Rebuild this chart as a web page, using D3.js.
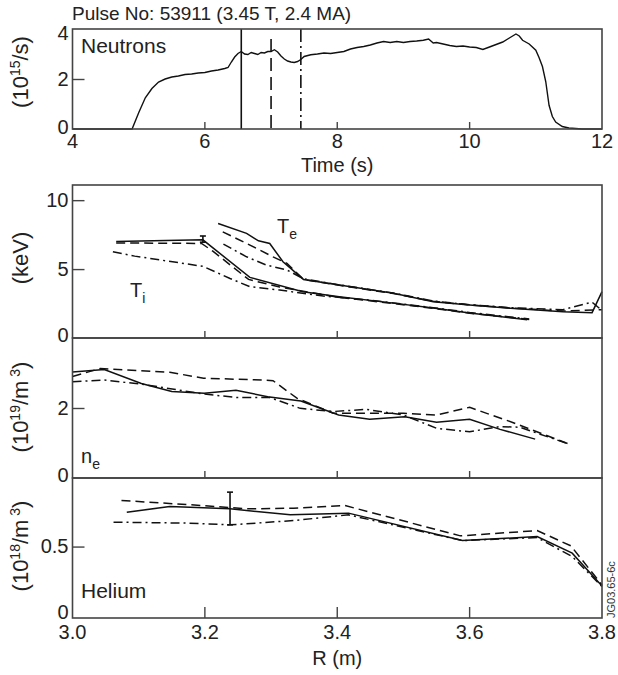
<!DOCTYPE html>
<html>
<head>
<meta charset="utf-8">
<script src="https://cdn.jsdelivr.net/npm/d3@7"></script>
<style>
body { margin: 0; background: #fff; }
svg { font-family: "Liberation Sans", Arial, sans-serif; }
</style>
</head>
<body>
<svg id="chart" width="618" height="675"></svg>
<script>
// ---- data ----
const pulseTitle = "Pulse No: 53911 (3.45 T, 2.4 MA)";

// neutron rate (10^15/s) vs time (s)
const neutronTime = [4.0, 4.9, 5.0, 5.1, 5.2, 5.3, 5.4, 5.5, 5.6, 5.7, 5.8, 5.9, 6.0, 6.1, 6.2, 6.3, 6.35,
  6.4, 6.45, 6.5, 6.55, 6.6, 6.65, 6.7, 6.75, 6.8, 6.85, 6.9, 6.95, 7.0, 7.05, 7.1, 7.15, 7.2, 7.25,
  7.3, 7.35, 7.4, 7.45, 7.5, 7.6, 7.7, 7.8, 7.9, 8.0, 8.1, 8.2, 8.3, 8.4, 8.5, 8.6, 8.7, 8.8, 8.9,
  9.0, 9.1, 9.2, 9.3, 9.38, 9.45, 9.5, 9.6, 9.7, 9.8, 9.9, 10.0, 10.1, 10.2, 10.3, 10.4, 10.5, 10.6,
  10.7, 10.75, 10.8, 10.9, 11.0, 11.05, 11.1, 11.15, 11.2, 11.25, 11.3, 11.4, 11.5, 11.7, 12.0];
const neutronRate = [0, 0, 0.65, 1.25, 1.62, 1.88, 2.0, 2.08, 2.12, 2.18, 2.2, 2.24, 2.26, 2.32, 2.36, 2.42, 2.46,
  2.68, 2.88, 3.02, 3.1, 3.0, 2.98, 3.06, 3.02, 2.98, 3.06, 3.04, 3.1, 3.1, 3.17, 3.08, 2.92, 2.8, 2.72,
  2.68, 2.66, 2.7, 2.78, 2.9, 2.97, 3.0, 3.04, 3.02, 3.06, 3.1, 3.2, 3.26, 3.3, 3.36, 3.44, 3.5, 3.46, 3.5,
  3.46, 3.5, 3.52, 3.55, 3.6, 3.44, 3.46, 3.4, 3.34, 3.3, 3.32, 3.28, 3.26, 3.18, 3.28, 3.38, 3.48, 3.64,
  3.8, 3.72, 3.55, 3.4, 3.15, 2.85, 2.5, 1.9, 0.95, 0.5, 0.28, 0.1, 0.04, 0, 0];
const sliceTimes = [6.55, 7.0, 7.45];   // solid, dashed, dash-dot profiles

// profiles vs major radius R (m)
const tiSolid   = [[3.066,7.0],[3.197,7.12],[3.268,4.4],[3.348,3.36],[3.403,3.0],[3.485,2.53],[3.545,2.17],[3.6,1.81],[3.687,1.32]];
const tiDashed  = [[3.066,6.9],[3.195,6.86],[3.212,6.3],[3.266,4.25],[3.313,3.7],[3.36,3.3],[3.403,2.95],[3.485,2.5],[3.545,2.15],[3.6,1.8],[3.69,1.35]];
const tiDashdot = [[3.061,6.26],[3.094,5.94],[3.197,5.2],[3.238,4.32],[3.268,3.72],[3.313,3.48],[3.379,3.04],[3.45,2.75],[3.545,2.2],[3.6,1.85],[3.69,1.38]];

const teSolid   = [[3.22,8.31],[3.263,7.59],[3.281,7.05],[3.298,6.86],[3.318,5.53],[3.349,4.25],[3.403,3.84],[3.485,3.24],[3.545,2.63],[3.6,2.39],[3.662,2.15],[3.741,1.91],[3.785,1.84],[3.8,3.36]];
const teDashed  = [[3.227,7.7],[3.263,6.86],[3.303,5.89],[3.324,5.41],[3.349,4.25],[3.403,3.82],[3.485,3.22],[3.545,2.66],[3.6,2.4],[3.662,2.18],[3.741,1.95],[3.8,2.05]];
const teDashdot = [[3.228,6.81],[3.263,5.89],[3.293,5.29],[3.324,4.93],[3.349,4.3],[3.403,3.86],[3.485,3.26],[3.545,2.68],[3.6,2.42],[3.662,2.2],[3.741,2.05],[3.785,2.6],[3.8,2.0]];

const neSolid   = [[3.0,3.03],[3.048,3.1],[3.104,2.7],[3.15,2.47],[3.199,2.42],[3.247,2.51],[3.295,2.32],[3.345,2.2],[3.402,1.8],[3.449,1.68],[3.502,1.75],[3.55,1.59],[3.6,1.68],[3.646,1.39],[3.699,1.11]];
const neDashed  = [[3.0,2.9],[3.042,3.13],[3.147,3.02],[3.198,2.85],[3.288,2.8],[3.303,2.78],[3.339,2.28],[3.394,1.85],[3.444,1.85],[3.5,1.85],[3.55,1.8],[3.6,2.02],[3.666,1.58],[3.75,0.97]];
const neDashdot = [[3.0,2.75],[3.047,2.8],[3.105,2.68],[3.198,2.4],[3.248,2.3],[3.298,2.3],[3.344,1.99],[3.394,1.9],[3.444,1.96],[3.5,1.8],[3.55,1.42],[3.6,1.32],[3.646,1.47],[3.676,1.45],[3.75,0.97]];

const heSolid   = [[3.082,0.741],[3.147,0.78],[3.238,0.764],[3.329,0.722],[3.417,0.734],[3.589,0.542],[3.702,0.57],[3.755,0.454],[3.8,0.224]];
const heDashed  = [[3.074,0.823],[3.193,0.788],[3.263,0.764],[3.334,0.769],[3.411,0.788],[3.586,0.575],[3.702,0.612],[3.753,0.505],[3.8,0.231]];
const heDashdot = [[3.062,0.671],[3.173,0.664],[3.238,0.652],[3.334,0.682],[3.417,0.722],[3.589,0.542],[3.702,0.563],[3.755,0.43],[3.8,0.22]];

const tempErr = [3.197, 6.95, 7.4];    // R, low, high
const heErr = [3.238, 0.652, 0.881];

// tick labels
const timeTicks = [4, 6, 8, 10, 12];
const neutronTicks = [0, 2, 4];
const rTicks = [3.0, 3.2, 3.4, 3.6, 3.8];
const tempTicks = [0, 5, 10];
const neTicks = [0, 2];
const heTicks = [0, 0.5];

// ---- drawing ----
const svg = d3.select("#chart");
const left = 72.5, right = 602;
const frameColor = "#444";
const dashes = { solid: null, dashed: "9,5", dashdot: "9,4,2,4" };

function axisLabelY(g, cy, parts) {
  // rotated label built from [text, size, dy] pieces
  var t = g.append("text")
    .attr("transform", `translate(28,${cy}) rotate(-90)`)
    .attr("text-anchor", "middle")
    .attr("font-size", 22)
    .attr("fill", "#222");
  parts.forEach(p => {
    t.append("tspan").attr("font-size", p[1]).attr("dy", p[2]).text(p[0]);
  });
}

function drawYAxis(y, ticks, zeroShift, topShift) {
  var ax = svg.append("g")
    .attr("transform", `translate(${left},0)`)
    .call(d3.axisLeft(y).tickValues(ticks).tickSizeInner(-12).tickSizeOuter(0).tickPadding(4)
      .tickFormat(d => d === 0.5 ? "0.5" : d3.format("d")(d)));
  ax.select(".domain").remove();
  ax.selectAll(".tick line")
    .attr("stroke", frameColor).attr("stroke-width", 1.4)
    .attr("display", d => (d === 0 || Math.abs(y(d) - y.range()[1]) < 2) ? "none" : null);
  ax.selectAll(".tick text")
    .attr("font-size", 20).attr("fill", "#222")
    .attr("font-family", "Liberation Sans, Arial, sans-serif")
    .attr("transform", d => d === 0 ? `translate(0,${zeroShift})` : (Math.abs(y(d) - y.range()[1]) < 2 ? `translate(0,${topShift})` : null));
}

function drawXTicks(x, ticks, yPos, len) {
  svg.append("g").selectAll("line")
    .data(ticks.slice(1, -1))
    .join("line")
    .attr("x1", d => x(d)).attr("x2", d => x(d))
    .attr("y1", yPos).attr("y2", yPos - len)
    .attr("stroke", frameColor).attr("stroke-width", 1.4);
}

function frame(top, bottom) {
  svg.append("rect")
    .attr("x", left).attr("y", top)
    .attr("width", right - left).attr("height", bottom - top)
    .attr("fill", "none").attr("stroke", frameColor).attr("stroke-width", 1.6);
}

// --- top panel: neutrons ---
const tx = d3.scaleLinear().domain([4, 12]).range([left, right]);
const ny = d3.scaleLinear().domain([0, 4]).range([129, 29]);

svg.append("text")
  .attr("x", 72).attr("y", 20)
  .attr("font-size", 19).attr("fill", "#222")
  .text(pulseTitle);

svg.append("path")
  .datum(d3.zip(neutronTime, neutronRate))
  .attr("fill", "none").attr("stroke", "#111").attr("stroke-width", 1.4)
  .attr("d", d3.line().x(d => tx(d[0])).y(d => ny(d[1])));

svg.append("g").selectAll("line")
  .data(sliceTimes)
  .join("line")
  .attr("x1", d => tx(d)).attr("x2", d => tx(d))
  .attr("y1", (d, i) => i === 1 ? ny(3.6) : ny(4)).attr("y2", ny(0))
  .attr("stroke", "#111").attr("stroke-width", 1.6)
  .attr("stroke-dasharray", (d, i) => [null, "13,6", "13,4,2,4"][i]);

drawXTicks(tx, timeTicks, 129, 7);
drawYAxis(ny, neutronTicks, -2, 4);
frame(29, 129);

svg.append("g").selectAll("text")
  .data(timeTicks)
  .join("text")
  .attr("x", d => tx(d)).attr("y", 148)
  .attr("text-anchor", "middle").attr("font-size", 20).attr("fill", "#222")
  .text(d => d);
svg.append("text")
  .attr("x", (left + right) / 2).attr("y", 172)
  .attr("text-anchor", "middle").attr("font-size", 20).attr("fill", "#222")
  .text("Time (s)");
svg.append("text")
  .attr("x", 81).attr("y", 53)
  .attr("font-size", 21).attr("fill", "#222")
  .text("Neutrons");
axisLabelY(svg, 72, [["(10", 22, 0], ["15", 14, -8], ["/s)", 22, 8]]);

// --- profile panels ---
const rx = d3.scaleLinear().domain([3.0, 3.8]).range([left, right]);

const panels = [
  { top: 185, bottom: 338, max: 11.1, ticks: tempTicks, zeroShift: -3, tickLen: 7,
    series: [[tiSolid, "solid"], [tiDashed, "dashed"], [tiDashdot, "dashdot"],
             [teSolid, "solid"], [teDashed, "dashed"], [teDashdot, "dashdot"]], err: tempErr },
  { top: 338, bottom: 478, max: 4.0, ticks: neTicks, zeroShift: -3, tickLen: 7,
    series: [[neSolid, "solid"], [neDashed, "dashed"], [neDashdot, "dashdot"]] },
  { top: 478, bottom: 618, max: 0.98, ticks: heTicks, zeroShift: -6, tickLen: 11,
    series: [[heSolid, "solid"], [heDashed, "dashed"], [heDashdot, "dashdot"]], err: heErr }
];

panels.forEach(p => {
  var y = d3.scaleLinear().domain([0, p.max]).range([p.bottom, p.top]);
  var line = d3.line().x(d => rx(d[0])).y(d => y(d[1]));

  svg.append("g").selectAll("path")
    .data(p.series)
    .join("path")
    .attr("fill", "none").attr("stroke", "#111").attr("stroke-width", 1.5)
    .attr("stroke-dasharray", d => dashes[d[1]])
    .attr("d", d => line(d[0]));

  if (p.err) {
    var e = svg.append("g").attr("stroke", "#111").attr("stroke-width", 1.6);
    e.append("line").attr("x1", rx(p.err[0])).attr("x2", rx(p.err[0]))
      .attr("y1", y(p.err[1])).attr("y2", y(p.err[2]));
    [p.err[1], p.err[2]].forEach(v => {
      e.append("line").attr("x1", rx(p.err[0]) - 3).attr("x2", rx(p.err[0]) + 3)
        .attr("y1", y(v)).attr("y2", y(v));
    });
  }

  drawXTicks(rx, rTicks, p.bottom, p.tickLen);
  drawYAxis(y, p.ticks, p.zeroShift, 0);
  frame(p.top, p.bottom);
});

// bottom axis labels
svg.append("g").selectAll("text")
  .data(rTicks)
  .join("text")
  .attr("x", d => rx(d)).attr("y", 639)
  .attr("text-anchor", "middle").attr("font-size", 20).attr("fill", "#222")
  .text(d => d3.format(".1f")(d));
svg.append("text")
  .attr("x", (left + right) / 2).attr("y", 665)
  .attr("text-anchor", "middle").attr("font-size", 20).attr("fill", "#222")
  .text("R (m)");

// in-panel labels
function subLabel(xp, yp, main, sub) {
  var t = svg.append("text").attr("x", xp).attr("y", yp).attr("font-size", 20).attr("fill", "#222");
  t.append("tspan").text(main);
  t.append("tspan").attr("font-size", 14).attr("dy", 6).text(sub);
}
subLabel(277, 233, "T", "e");
subLabel(130, 297, "T", "i");
subLabel(81, 463, "n", "e");
svg.append("text")
  .attr("x", 81).attr("y", 598)
  .attr("font-size", 21).attr("fill", "#222")
  .text("Helium");

axisLabelY(svg, 258, [["(keV)", 22, 0]]);
axisLabelY(svg, 407, [["(10", 22, 0], ["19", 14, -8], ["/m", 22, 8], [" 3", 14, -8], [")", 22, 8]]);
axisLabelY(svg, 546, [["(10", 22, 0], ["18", 14, -8], ["/m", 22, 8], [" 3", 14, -8], [")", 22, 8]]);

svg.append("text")
  .attr("transform", "translate(615,618) rotate(-90)")
  .attr("font-size", 11).attr("fill", "#333")
  .text("JG03.65-6c");
</script>
</body>
</html>
